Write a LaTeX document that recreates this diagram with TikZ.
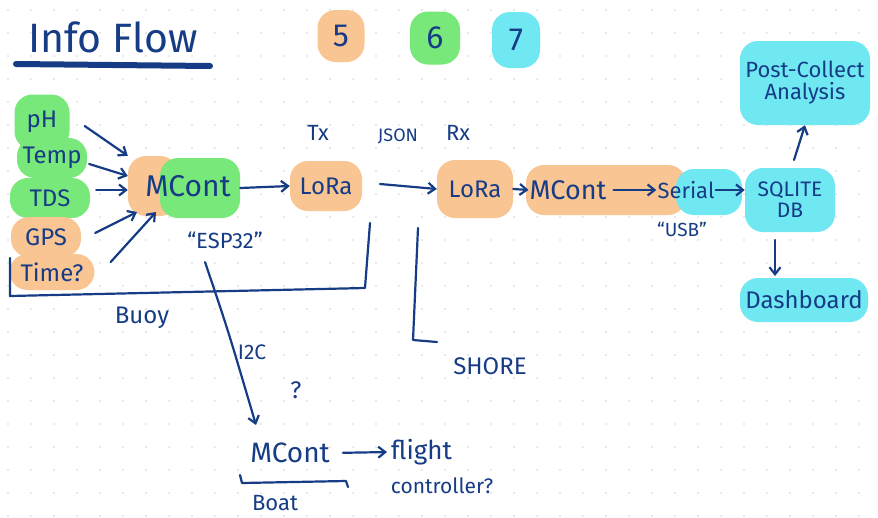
\documentclass[tikz,border=0pt]{standalone}
\usepackage{fontspec}
\setmainfont{Fira Sans}
\usetikzlibrary{arrows.meta,calc}
\definecolor{ink}{HTML}{163C86}
\definecolor{peach}{HTML}{F9C592}
\definecolor{lime}{HTML}{79E87A}
\definecolor{aqua}{HTML}{6FE8F2}
\definecolor{dotc}{HTML}{D4D4D4}
\newcommand{\fs}[1]{\fontsize{#1}{#1}\selectfont}
\tikzset{
  lbl/.style={text=ink, font=\fs{24}, inner sep=1pt},
  small/.style={text=ink, font=\fs{19}, inner sep=1pt},
  blob/.style={lbl, rounded corners=18pt},
  ob/.style={blob, fill=peach},
  gb/.style={blob, fill=lime},
  cb/.style={blob, fill=aqua},
  pen/.style={draw=ink, line width=2.2pt, line cap=round, line join=round},
  arr/.style={pen, -{Straight Barb[length=7pt,width=11pt]}},
}
\begin{document}
\begin{tikzpicture}[x=1pt,y=-1pt]
\useasboundingbox (0,0) rectangle (878,517);
\fill[white] (0,0) rectangle (878,517);
\foreach \i in {0,...,38} \foreach \j in {0,...,22}
  \fill[dotc] (8+\i*23,10+\j*23) circle (0.9pt);
% title
\node[text=ink, font=\fs{41}] (title) at (113,37) {Info Flow};
\draw[draw=ink, line width=6pt, line cap=round] (16,64) -- (210,66);
\node[ob, font=\fs{32}, minimum width=47pt, minimum height=52pt] (n5) at (341,36) {5};
\node[gb, font=\fs{32}, minimum width=50pt, minimum height=53pt] (n6) at (435,38) {6};
\node[cb, font=\fs{32}, minimum width=48pt, minimum height=56pt] (n7) at (516,40) {7};
% sensors
\node[gb, minimum width=55pt, minimum height=55pt] (ph) at (42,122) {pH};
\node[gb, minimum width=70pt, minimum height=40pt] (temp) at (52,158) {Temp};
\node[gb, minimum width=80pt, minimum height=40pt] (tds) at (50,198) {TDS};
\node[ob, minimum width=70pt, minimum height=40pt] (gps) at (46,237) {GPS};
\node[ob, minimum width=85pt, minimum height=36pt] (time) at (52,272) {Time?};
% microcontroller on buoy
\node[ob, minimum width=50pt, minimum height=60pt] (mco) at (153,186) {};
\node[gb, minimum width=80pt, minimum height=60pt] (mc) at (200,188) {};
\node[lbl, font=\fs{30}] (mct) at (188,186) {MCont};
\node[small, font=\fs{22}] (esp) at (225,240) {“ESP32”};
\draw[arr] (ph.east) ++(15,4) -- (mco.north west);
\draw[arr] (temp.east) ++(2,6) -- (mco.west |- 0,176);
\draw[arr] (tds.east) ++(6,-8) -- (mco.west |- 0,190);
\draw[arr] (gps.east) ++(14,-4) -- (137,212);
\draw[arr] (time.east) ++(16,-10) -- (156,212);
% LoRa tx
\node[ob, minimum width=72pt, minimum height=50pt] (lora1) at (326,186) {LoRa};
\draw[arr] (mc.east) -- (lora1.west);
\node[lbl, font=\fs{22}] (tx) at (318,133) {Tx};
\node[small, font=\fs{18}] (json) at (398,136) {JSON};
\node[lbl, font=\fs{22}] (rx) at (458,133) {Rx};
\node[ob, minimum width=76pt, minimum height=58pt] (lora2) at (475,189) {LoRa};
\draw[arr] (380,184) -- (lora2.west);
\node[ob, minimum width=160pt, minimum height=50pt] (mcb) at (606,190) {};
\node[lbl, font=\fs{27}] (mc2) at (568,190) {MCont};
\draw[arr] (lora2.east) -- (mc2.west);
\node[cb, minimum width=66pt, minimum height=46pt] (serb) at (709,192) {};
\node[lbl, font=\fs{22}] (serial) at (686,190) {Serial};
\node[small] (usb) at (682,229) {“USB”};
\draw[arr] (mc2.east) ++(6,0) -- (serial.west);
\node[cb, align=center, font=\fs{21}, minimum width=90pt, minimum height=64pt] (db) at (790,200) {SQLITE\\DB};
\draw[arr] (serial.east) -- (db.west |- serial.east);
\node[cb, align=center, font=\fs{22}, minimum width=130pt, minimum height=84pt] (post) at (805,83) {Post-Collect\\Analysis};
\draw[arr] (794,160) -- (post.south);
\node[cb, minimum width=128pt, minimum height=44pt] (dash) at (804,300) {Dashboard};
\draw[arr] (775,240) -- (775,276);
% buoy bracket
\coordinate (b1) at (10,258);
\coordinate (b2) at (10,296);
\coordinate (b3) at (365,288);
\coordinate (b4) at (370,223);
\draw[pen] (b1) -- (b2) -- (b3) -- (b4);
\node[lbl] (buoy) at (142,318) {Buoy};
% shore bracket
\coordinate (s1) at (418,228);
\coordinate (s2) at (413,340);
\coordinate (s3) at (437,342);
\draw[pen] (s1) -- (s2) -- (s3);
\node[lbl] (shore) at (490,366) {SHORE};
% I2C to boat
\node[lbl, font=\fs{28}] (mc3) at (290,453) {MCont};
\coordinate (i1) at (205,262);
\draw[arr] (i1) .. controls (228,330) .. (256,425);
\node[small, font=\fs{21}] (i2c) at (252,352) {I2C};
\node[lbl] (q) at (296,390) {?};
\node[lbl, anchor=west, font=\fs{26}] (fc) at (390,452) {flight};
\node[small, font=\fs{21}] (fc2) at (442,486) {controller?};
\draw[arr, shorten <=12pt, shorten >=3pt] (mc3.east) -- (fc.west);
\draw[pen] (240,475) -- (242,483) -- (346,481) -- (348,487);
\node[lbl, font=\fs{22}] (boat) at (275,503) {Boat};
\end{tikzpicture}
\end{document}
